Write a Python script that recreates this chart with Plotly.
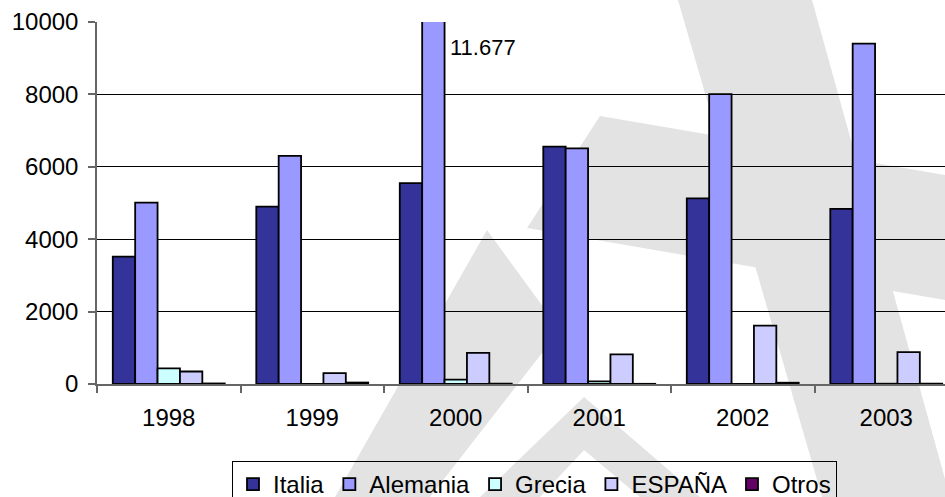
import plotly.graph_objects as go

years = ['1998', '1999', '2000', '2001', '2002', '2003']
italia = [3520, 4900, 5550, 6560, 5130, 4840]
alemania = [5010, 6300, 11677, 6510, 8010, 9400]
grecia = [430, 0, 120, 70, 0, 8]
espana = [345, 300, 860, 820, 1610, 880]
otros = [15, 40, 10, 5, 35, 10]

series_names = ['Italia', 'Alemania', 'Grecia', 'ESPAÑA', 'Otros']
series_values = [italia, alemania, grecia, espana, otros]
series_colors = ['#333399', '#9999FF', '#CCFFFF', '#CCCCFF', '#660066']

W, H = 945, 497
L, R, T, B = 97, 0, 22, 113
FONT = 'Liberation Sans, Arial, sans-serif'

fig = go.Figure()
for name, vals, col in zip(series_names, series_values, series_colors):
    fig.add_trace(go.Bar(
        x=years, y=vals, name=name,
        marker=dict(color=col, line=dict(color='black', width=1.8)),
    ))

# label for the clipped Alemania 2000 bar (value beyond the axis range)
imax = alemania.index(max(alemania))
label = f"{alemania[imax]:,}".replace(',', '.')
fig.add_annotation(x=imax, y=9300, xref='x', yref='y', text=label,
                   showarrow=False, xanchor='left', yanchor='middle', xshift=-8,
                   font=dict(family=FONT, size=22, color='black'))

# light grey watermark (decorative), given in pixel coordinates
pw, ph = W - L - R, H - T - B
def px(x, y):
    return (x - L) / pw, (H - B - y) / ph

watermark = [
    [(678, 0), (812, 0), (919, 385), (950, 497), (822, 497)],
    [(600, 116), (945, 175), (945, 300), (527, 228)],
    [(487, 230), (560, 330), (430, 497), (335, 497)],
    [(584, 397), (700, 497), (640, 497), (584, 450), (540, 497), (480, 497)],
]
for poly in watermark:
    pts = [px(x, y) for x, y in poly]
    path = 'M ' + ' L '.join(f'{a:.4f},{b:.4f}' for a, b in pts) + ' Z'
    fig.add_shape(type='path', path=path, xref='paper', yref='paper',
                  fillcolor='#e3e3e3', line=dict(width=0), layer='below')

fig.update_layout(
    width=W, height=H,
    margin=dict(l=L, r=R, t=T, b=B),
    paper_bgcolor='white', plot_bgcolor='rgba(0,0,0,0)',
    barmode='group', bargap=0.22, bargroupgap=0,
    font=dict(family=FONT, size=24, color='black'),
    showlegend=True,
    legend=dict(orientation='h', xref='container', yref='container',
                x=232 / W, y=1 - 461 / H, xanchor='left', yanchor='top',
                bordercolor='black', borderwidth=1, bgcolor='rgba(0,0,0,0)',
                font=dict(family=FONT, size=24, color='black'),
                traceorder='normal'),
    xaxis=dict(type='category', range=[-0.5, -0.5 + (W - L - R) / 143.5],
               showline=True, linecolor='#666666', linewidth=1.5,
               ticks='outside', tickson='boundaries', ticklen=7,
               tickcolor='#666666', tickwidth=1.5, showgrid=False,
               tickfont=dict(family=FONT, size=24), automargin=False,
               ticklabelstandoff=11),
    yaxis=dict(range=[0, 10000], tickvals=[0, 2000, 4000, 6000, 8000, 10000],
               showline=True, linecolor='#666666', linewidth=1.5,
               ticks='outside', ticklen=7, tickcolor='#666666', tickwidth=1.5,
               showgrid=True, gridcolor='black', gridwidth=1,
               zeroline=False, tickformat='d',
               tickfont=dict(family=FONT, size=24), automargin=False,
               ticklabelstandoff=5),
)

fig.write_html('out.html', config={'displayModeBar': False},
               post_script="document.body.style.margin='0';")
